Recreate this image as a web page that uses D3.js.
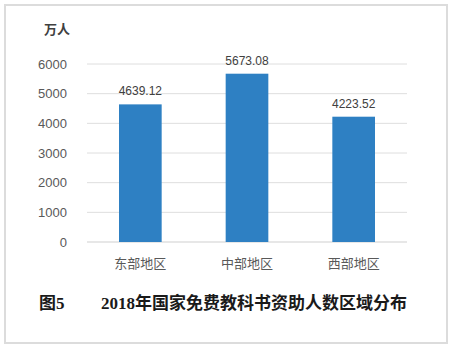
<!DOCTYPE html>
<html>
<head>
<meta charset="utf-8">
<script src="https://cdn.jsdelivr.net/npm/d3@7"></script>
<style>
  html, body { margin: 0; padding: 0; background: #fff; }
</style>
</head>
<body>
<div class="container"></div>
<script>
var categories = ['东部地区', '中部地区', '西部地区'];
var values = [4639.12, 5673.08, 4223.52];
var yTicks = [0, 1000, 2000, 3000, 4000, 5000, 6000];
var unitLabel = '万人';
var figLabel = '图5';
var captionText = '2018年国家免费教科书资助人数区域分布';

const WIDTH = 451;
const HEIGHT = 348;
const PLOT_LEFT = 87;
const PLOT_RIGHT = 407;
const PLOT_TOP = 64;
const PLOT_BOTTOM = 242;

var svg = d3.select('.container').append('svg')
  .attr('width', WIDTH)
  .attr('height', HEIGHT);

// frame
svg.append('rect')
  .attr('x', 5).attr('y', 5)
  .attr('width', 442).attr('height', 338)
  .attr('fill', '#fff')
  .attr('stroke', '#dcdcdc')
  .attr('stroke-width', 2);

var xScale = d3.scaleBand()
  .domain(categories)
  .range([PLOT_LEFT, PLOT_RIGHT])
  .paddingInner(0.6)
  .paddingOuter(0.3);

var yScale = d3.scaleLinear()
  .domain([0, 6000])
  .range([PLOT_BOTTOM, PLOT_TOP]);

// gridlines
svg.append('g')
  .selectAll('line')
  .data(yTicks)
  .enter().append('line')
  .attr('x1', PLOT_LEFT).attr('x2', PLOT_RIGHT)
  .attr('y1', function (d) { return yScale(d); })
  .attr('y2', function (d) { return yScale(d); })
  .attr('stroke', function (d) { return d === 0 ? '#cfcfcf' : '#dedede'; })
  .attr('stroke-width', 1);

// y tick labels
svg.append('g')
  .selectAll('text')
  .data(yTicks)
  .enter().append('text')
  .attr('x', 67)
  .attr('y', function (d) { return yScale(d); })
  .attr('dy', '0.35em')
  .attr('text-anchor', 'end')
  .attr('font-family', 'Liberation Sans, Arial, sans-serif')
  .attr('font-size', 13)
  .attr('fill', '#595959')
  .text(function (d) { return d; });

// unit
svg.append('text')
  .attr('x', 44).attr('y', 34)
  .attr('font-family', 'Noto Sans CJK SC, sans-serif')
  .attr('font-weight', 'bold')
  .attr('font-size', 13)
  .attr('fill', '#404040')
  .text(unitLabel);

// bars
svg.append('g')
  .selectAll('rect')
  .data(values)
  .enter().append('rect')
  .attr('x', function (d, i) { return xScale(categories[i]); })
  .attr('y', function (d) { return yScale(d); })
  .attr('width', xScale.bandwidth())
  .attr('height', function (d) { return PLOT_BOTTOM - yScale(d); })
  .attr('fill', '#2e80c3');

// value labels
svg.append('g')
  .selectAll('text')
  .data(values)
  .enter().append('text')
  .attr('x', function (d, i) { return xScale(categories[i]) + xScale.bandwidth() / 2; })
  .attr('y', function (d) { return yScale(d) - 9; })
  .attr('text-anchor', 'middle')
  .attr('font-family', 'Liberation Sans, Arial, sans-serif')
  .attr('font-size', 12)
  .attr('fill', '#404040')
  .text(function (d) { return d.toFixed(2); });

// category labels
svg.append('g')
  .selectAll('text')
  .data(categories)
  .enter().append('text')
  .attr('x', function (d) { return xScale(d) + xScale.bandwidth() / 2; })
  .attr('y', 268)
  .attr('text-anchor', 'middle')
  .attr('font-family', 'Noto Sans CJK SC, sans-serif')
  .attr('font-size', 13)
  .attr('fill', '#595959')
  .text(function (d) { return d; });

// caption
svg.append('text')
  .attr('x', 39).attr('y', 309)
  .attr('font-family', 'Liberation Serif, Noto Sans CJK SC, serif')
  .attr('font-weight', 'bold')
  .attr('font-size', 17)
  .attr('fill', '#1a1a1a')
  .text(figLabel);

svg.append('text')
  .attr('x', 101).attr('y', 309)
  .attr('font-family', 'Liberation Serif, Noto Sans CJK SC, serif')
  .attr('font-weight', 'bold')
  .attr('font-size', 17)
  .attr('fill', '#1a1a1a')
  .text(captionText);
</script>
</body>
</html>
